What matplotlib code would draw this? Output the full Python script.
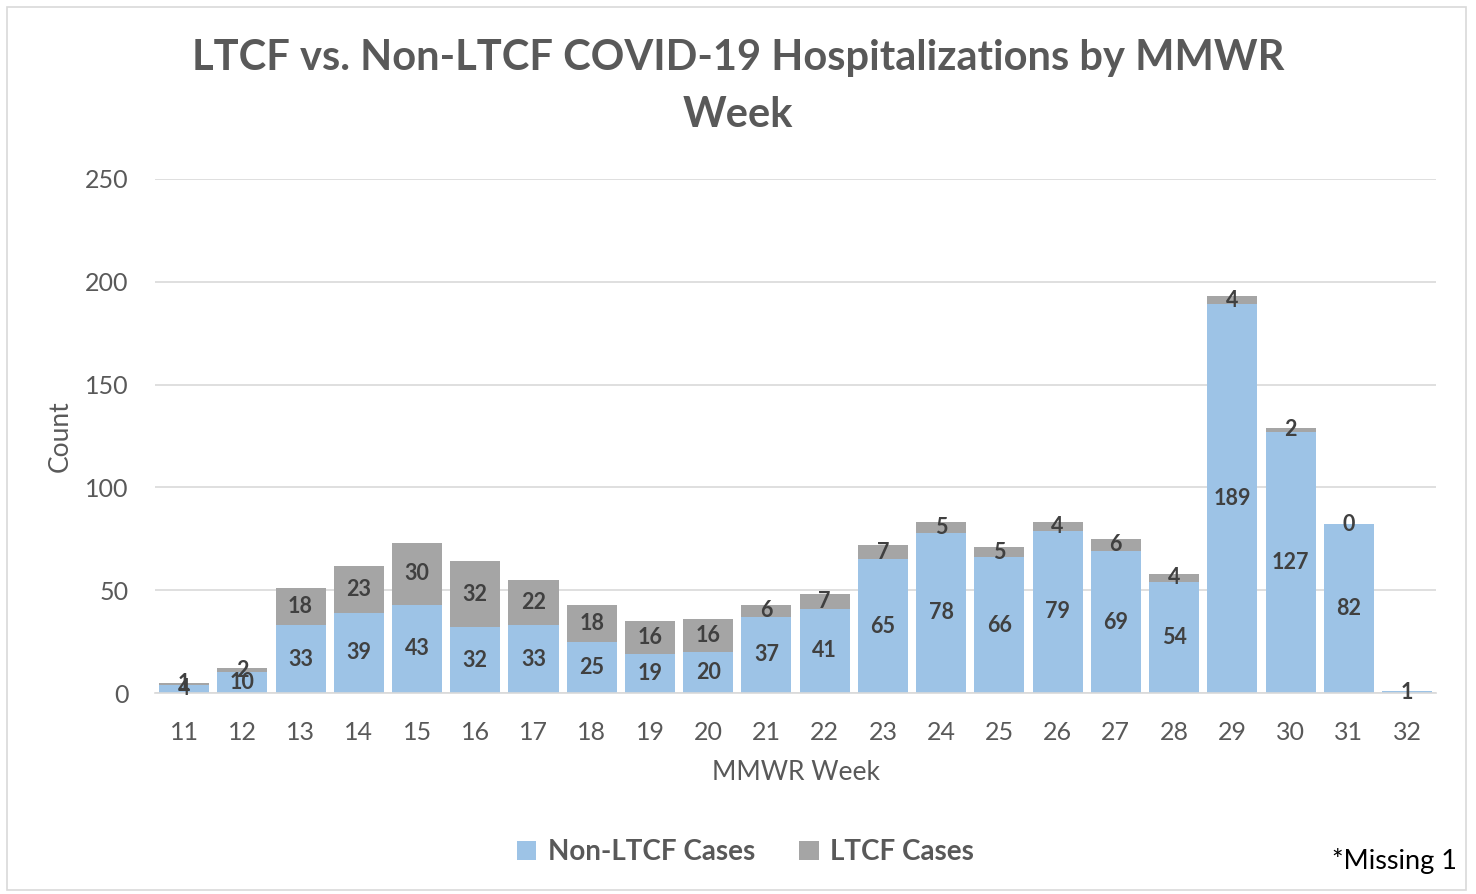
import numpy as np
import matplotlib.pyplot as plt
from matplotlib.patches import Rectangle

# Data
weeks = ['11', '12', '13', '14', '15', '16', '17', '18', '19', '20', '21',
         '22', '23', '24', '25', '26', '27', '28', '29', '30', '31', '32']
non_ltcf = [4, 10, 33, 39, 43, 32, 33, 25, 19, 20, 37,
            41, 65, 78, 66, 79, 69, 54, 189, 127, 82, 1]
ltcf = [1, 2, 18, 23, 30, 32, 22, 18, 16, 16, 6,
        7, 7, 5, 5, 4, 6, 4, 4, 2, 0, None]

plt.rcParams['font.family'] = ['Lato', 'DejaVu Sans']

blue = '#9DC3E6'
gray = '#A5A5A5'
dark = '#404040'
tick_col = '#595959'

fig = plt.figure(figsize=(14.76, 8.94), dpi=100)
ax = fig.add_axes([0.105, 0.2248, 0.868, 0.575])

x = np.arange(len(weeks))
ltcf_vals = [v if v is not None else 0 for v in ltcf]
b1 = ax.bar(x, non_ltcf, width=0.86, color=blue, label='Non-LTCF Cases', zorder=2)
b2 = ax.bar(x, ltcf_vals, width=0.86, bottom=non_ltcf, color=gray, label='LTCF Cases', zorder=2)

# data labels, centred in each segment
for i in range(len(weeks)):
    n = non_ltcf[i]
    l = ltcf[i]
    ax.text(x[i], n / 2, str(n), ha='center', va='center', fontsize=15.5,
            fontweight='bold', color=dark, zorder=3)
    if l is not None:
        ax.text(x[i], n + l / 2, str(l), ha='center', va='center', fontsize=15.5,
                fontweight='bold', color=dark, zorder=3)

ax.set_ylim(0, 250)
ax.set_xlim(-0.5, len(weeks) - 0.5)
ax.set_yticks([0, 50, 100, 150, 200, 250])
ax.set_xticks(x)
ax.set_xticklabels(weeks)
ax.tick_params(axis='both', length=0, labelsize=18, labelcolor=tick_col)
ax.tick_params(axis='x', pad=20)
ax.tick_params(axis='y', pad=19)
ax.grid(axis='y', color='#D9D9D9', linewidth=1.2, zorder=0)
ax.set_axisbelow(True)
for s in ['top', 'right', 'left']:
    ax.spines[s].set_visible(False)
ax.spines['bottom'].set_color('#D9D9D9')
ax.spines['bottom'].set_linewidth(1.2)

ax.set_xlabel('MMWR Week', fontsize=19, color=tick_col, labelpad=12)
ax.set_ylabel('Count', fontsize=19, color=tick_col, labelpad=9)

fig.text(0.5, 0.903, 'LTCF vs. Non-LTCF COVID-19 Hospitalizations by MMWR\nWeek',
         ha='center', va='center', fontsize=30, fontweight='bold', color=tick_col,
         linespacing=1.62)

fig.legend(handles=[b1, b2], loc='center', bbox_to_anchor=(0.505, 0.047), ncol=2,
           frameon=False, prop={'size': 20, 'weight': 'bold'}, labelcolor=tick_col,
           handlelength=0.7, handleheight=0.7, handletextpad=0.4, columnspacing=1.6)

fig.text(0.987, 0.037, '*Missing 1', ha='right', va='center', fontsize=19.5, color='black')

# outer chart border
fig.patches.append(Rectangle((0.005, 0.005), 0.988, 0.987, transform=fig.transFigure,
                             fill=False, edgecolor='#D9D9D9', linewidth=1.2))

fig.savefig('out.png', dpi=100)
